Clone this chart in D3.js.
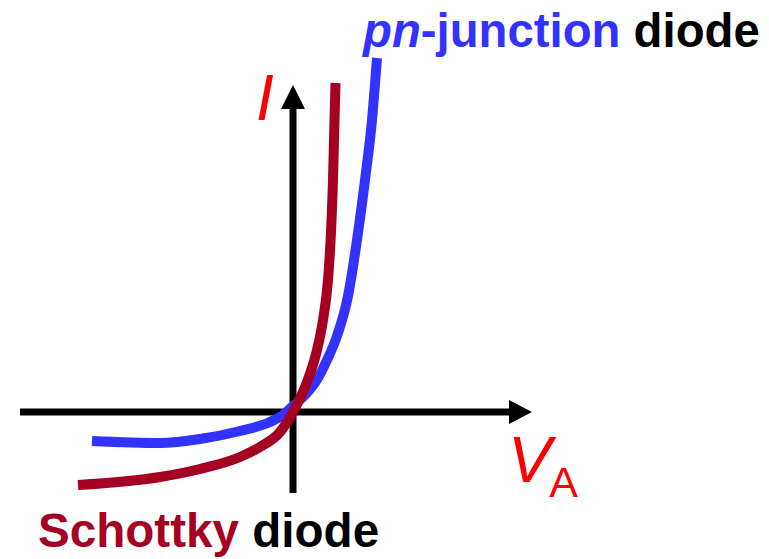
<!DOCTYPE html>
<html><head><meta charset="utf-8">
<script src="https://cdn.jsdelivr.net/npm/d3@7"></script>
<style>html,body{margin:0;padding:0;background:#fff;}svg{display:block;}</style>
</head><body>
<script>
// Data in axis units (V_A, I); origin of axes at (0,0)
const pnV = [-2.01,-1.33,-0.93,-0.53,-0.23,-0.10,0.00,0.12,0.25,0.34,0.44,0.55,0.64,0.72,0.79,0.84];
const pnI = [-0.29,-0.31,-0.27,-0.19,-0.10,-0.03,0.06,0.17,0.34,0.52,0.76,1.16,1.72,2.32,2.92,3.54];
const skV = [-2.15,-1.33,-0.93,-0.53,-0.33,-0.13,0.00,0.14,0.24,0.30,0.35,0.38,0.40,0.415,0.425];
const skI = [-0.73,-0.65,-0.57,-0.45,-0.35,-0.20,0.00,0.30,0.62,0.92,1.32,1.80,2.32,2.92,3.29];
const xExtent = [-2.73, 2.39];
const yExtent = [-0.81, 3.27];
const labelPn = ["pn", "-junction", " diode"];
const labelSk = ["Schottky", " diode"];

const W = 769, H = 559;
const svg = d3.select("body").append("svg").attr("width", W).attr("height", H);
const x = d3.scaleLinear().domain(xExtent).range([20, 532]);
const y = d3.scaleLinear().domain(yExtent).range([493, 85]);

// axes
const g = svg.append("g");
g.append("line").attr("x1", x(xExtent[0])).attr("x2", x(xExtent[1]) - 22)
  .attr("y1", y(0)).attr("y2", y(0)).attr("stroke", "#000").attr("stroke-width", 7);
g.append("path").attr("d", `M${x(xExtent[1])},${y(0)} L${x(xExtent[1])-23},${y(0)-12} L${x(xExtent[1])-23},${y(0)+12} Z`).attr("fill", "#000");
g.append("line").attr("x1", x(0)).attr("x2", x(0))
  .attr("y1", y(yExtent[0])).attr("y2", y(yExtent[1]) + 22).attr("stroke", "#000").attr("stroke-width", 7);
g.append("path").attr("d", `M${x(0)},${y(yExtent[1])} L${x(0)-12},${y(yExtent[1])+24} L${x(0)+12},${y(yExtent[1])+24} Z`).attr("fill", "#000");

const line = d3.line().x(d => x(d[0])).y(d => y(d[1])).curve(d3.curveMonotoneX);
svg.append("path").datum(pnV.map((v, i) => [v, pnI[i]])).attr("d", line)
  .attr("fill", "none").attr("stroke", "#3333FF").attr("stroke-width", 10);
svg.append("path").datum(skV.map((v, i) => [v, skI[i]])).attr("d", line)
  .attr("fill", "none").attr("stroke", "#A50021").attr("stroke-width", 10);

// labels
const font = "'Liberation Sans', Arial, sans-serif";
const t1 = svg.append("text").attr("x", 363).attr("y", 47).attr("font-family", font)
  .attr("font-size", 47.3).attr("font-weight", "bold");
t1.append("tspan").text(labelPn[0]).attr("fill", "#3333FF").attr("font-style", "italic");
t1.append("tspan").text(labelPn[1]).attr("fill", "#3333FF");
t1.append("tspan").text(labelPn[2]).attr("fill", "#000");

const t2 = svg.append("text").attr("x", 38).attr("y", 547).attr("font-family", font)
  .attr("font-size", 47.6).attr("font-weight", "bold");
t2.append("tspan").text(labelSk[0]).attr("fill", "#A50021");
t2.append("tspan").text(labelSk[1]).attr("fill", "#000");

svg.append("text").attr("x", 256).attr("y", 120).attr("font-family", font)
  .attr("font-size", 64).attr("font-style", "italic").attr("fill", "#FF0000").text("I");

const t3 = svg.append("text").attr("x", 508).attr("y", 482).attr("font-family", font)
  .attr("font-size", 65).attr("fill", "#FF0000");
t3.append("tspan").text("V").attr("font-style", "italic");
t3.append("tspan").text("A").attr("font-size", 43).attr("dy", 15).attr("dx", -2);
</script>
</body></html>
